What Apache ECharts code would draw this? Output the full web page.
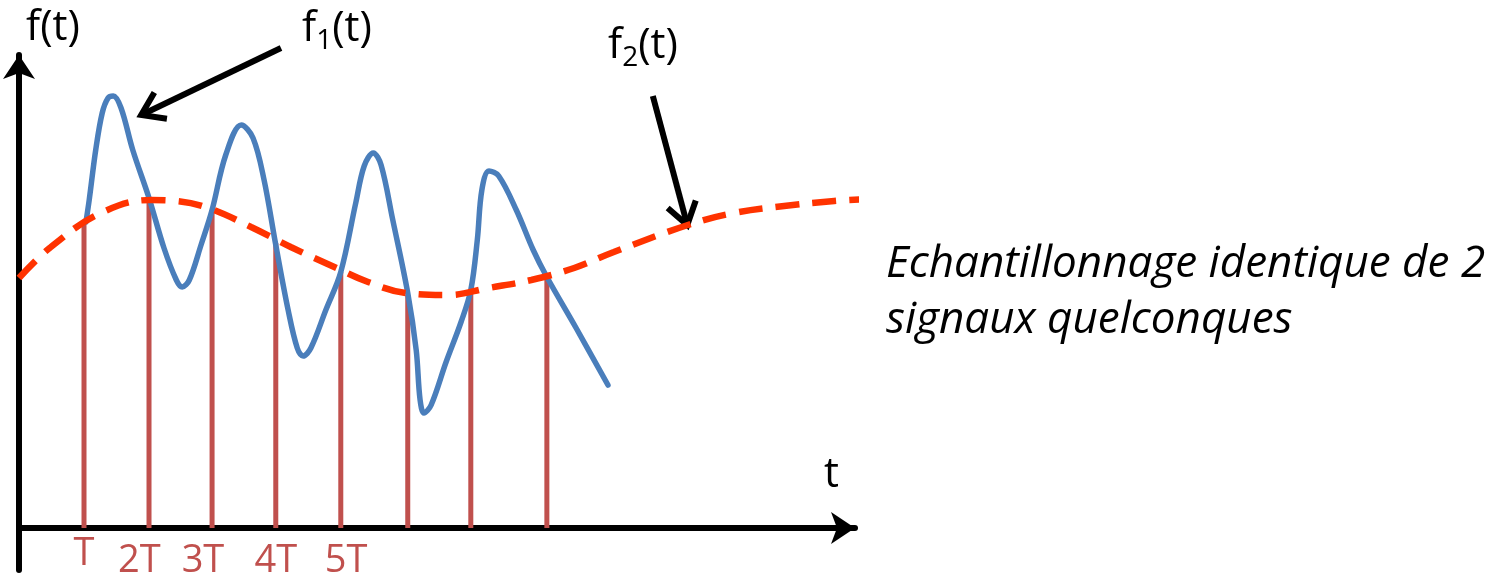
<!DOCTYPE html>
<html>
<head>
<meta charset="utf-8">
<script src="https://cdn.jsdelivr.net/npm/echarts@6/dist/echarts.min.js"></script>
<style>
  html, body { margin: 0; padding: 0; background: #fff; }
  #main { width: 1503px; height: 573px; }
</style>
</head>
<body>
<div id="main"></div>
<script>
// t en unités de T, amplitude en unités arbitraires
const f1T = [1.03, 1.08, 1.18, 1.28, 1.37, 1.45, 1.57, 1.75, 2.00, 2.23, 2.42, 2.51, 2.62, 2.80, 2.97, 3.18, 3.42, 3.60, 3.77, 3.95, 4.14, 4.28, 4.37, 4.49, 4.72, 4.95, 5.18, 5.31, 5.45, 5.57, 5.75, 5.98, 6.11, 6.17, 6.23, 6.34, 6.57, 6.80, 6.95, 7.05, 7.12, 7.23, 7.38, 7.65, 7.91, 8.12, 8.57, 9.06];
const f1V = [3.06, 3.28, 3.78, 4.15, 4.30, 4.32, 4.20, 3.78, 3.30, 2.80, 2.48, 2.41, 2.48, 2.83, 3.18, 3.73, 4.03, 3.90, 3.48, 2.83, 2.18, 1.80, 1.72, 1.80, 2.18, 2.56, 3.25, 3.62, 3.75, 3.63, 3.08, 2.35, 1.78, 1.28, 1.15, 1.23, 1.66, 2.06, 2.38, 2.88, 3.38, 3.57, 3.52, 3.18, 2.78, 2.51, 2.00, 1.43];

const f2T = [0, 0.49, 1.26, 2.03, 2.42, 2.91, 3.57, 4.18, 4.85, 5.37, 5.95, 6.60, 7.22, 7.88, 8.54, 9.15, 10.29, 11.00, 11.77, 12.54, 13.05];
const f2V = [2.50, 2.81, 3.15, 3.28, 3.27, 3.20, 3.01, 2.81, 2.61, 2.46, 2.35, 2.33, 2.40, 2.48, 2.60, 2.76, 3.03, 3.15, 3.22, 3.27, 3.29];

// échantillons
const sampleT = [1.00, 2.00, 2.97, 3.95, 4.95, 5.98, 6.95, 8.12];
const sampleV = [3.04, 3.30, 3.18, 2.85, 2.56, 2.33, 2.38, 2.53];

const tickPos = [1.0, 1.85, 2.83, 3.95, 5.03];
const tickLabels = ['T', '2T', '3T', '4T', '5T'];

const FONT = '"Open Sans"';
const chart = echarts.init(document.getElementById('main'));

const option = {
  animation: false,
  backgroundColor: '#fff',
  grid: { left: 19, top: 55, width: 836, bottom: 3, containLabel: false, outerBoundsMode: 'none' },
  xAxis: {
    type: 'value',
    min: 0,
    max: 12.86,
    axisLine: {
      onZero: true,
      symbol: ['none', 'arrow'],
      symbolSize: [24, 24],
      lineStyle: { color: '#000', width: 6 }
    },
    axisTick: { show: false },
    axisLabel: { show: false },
    splitLine: { show: false }
  },
  yAxis: {
    type: 'value',
    min: -0.42,
    max: 4.73,
    axisLine: {
      show: true,
      onZero: true,
      symbol: ['none', 'arrow'],
      symbolSize: [24, 24],
      lineStyle: { color: '#000', width: 6 }
    },
    axisTick: { show: false },
    axisLabel: { show: false },
    splitLine: { show: false }
  },
  series: [
    {
      name: 'echantillons',
      type: 'custom',
      data: sampleT.map((t, i) => [t, sampleV[i]]),
      renderItem: function (params, api) {
        const p0 = api.coord([api.value(0), 0]);
        const p1 = api.coord([api.value(0), api.value(1)]);
        return {
          type: 'line',
          shape: { x1: p0[0], y1: p0[1], x2: p1[0], y2: p1[1] },
          style: { stroke: '#C0504D', lineWidth: 5 }
        };
      },
      z: 1
    },
    {
      name: 'f1',
      type: 'line',
      data: f1T.map((t, i) => [t, f1V[i]]),
      smooth: 0.35,
      showSymbol: false,
      lineStyle: { color: '#4A7EBB', width: 5.5, cap: 'round' },
      z: 2
    },
    {
      name: 'f2',
      type: 'line',
      data: f2T.map((t, i) => [t, f2V[i]]),
      smooth: 0.4,
      showSymbol: false,
      clip: false,
      lineStyle: { color: '#FF3300', width: 6.5, type: [24, 13] },
      z: 3
    }
  ]
};

chart.setOption(option);

// flèches d'annotation (ancrées en coordonnées de données)
function arrow(tail, tip) {
  const a = chart.convertToPixel({ gridIndex: 0 }, tail);
  const b = chart.convertToPixel({ gridIndex: 0 }, tip);
  const dx = a[0] - b[0], dy = a[1] - b[1];
  const len = Math.sqrt(dx * dx + dy * dy);
  const ux = dx / len, uy = dy / len;
  const ang = 34 * Math.PI / 180, w = 26;
  const rot = (s) => [
    b[0] + w * (ux * Math.cos(s * ang) - uy * Math.sin(s * ang)),
    b[1] + w * (ux * Math.sin(s * ang) + uy * Math.cos(s * ang))
  ];
  const style = { stroke: '#000', lineWidth: 6, fill: null, lineJoin: 'miter' };
  return [
    { type: 'line', shape: { x1: a[0], y1: a[1], x2: b[0], y2: b[1] }, style: style },
    { type: 'polyline', shape: { points: [rot(1), b, rot(-1)] }, style: style }
  ];
}

// étiquettes de l'axe t (T, 2T, ...)
const tickTexts = tickLabels.map((lab, i) => {
  const p = chart.convertToPixel({ gridIndex: 0 }, [tickPos[i], 0]);
  return {
    type: 'text', x: p[0], y: p[1] + (i === 0 ? 7 : 14),
    style: { text: lab, fill: '#C0504D', font: '38px ' + FONT, align: 'center', verticalAlign: 'top' }
  };
});

const txt = (x, y, text, rich) => ({
  type: 'text', left: x, top: y,
  style: { text: text, fill: '#000', font: '42px ' + FONT, rich: rich }
});

const subRich = {
  m: { fontSize: 42, fontFamily: FONT, lineHeight: 52, color: '#000' },
  s: { fontSize: 28, fontFamily: FONT, lineHeight: 22, verticalAlign: 'bottom', color: '#000' }
};

chart.setOption({
  graphic: [
    ...arrow([4.03, 4.80], [1.88, 4.13]),
    ...arrow([9.75, 4.32], [10.28, 3.03]),
    ...tickTexts,
    txt(26, 7, 'f(t)'),
    txt(824, 454, 't'),
    txt(302, 8, '{m|f}{s|1}{m|(t)}', subRich),
    txt(608, 25, '{m|f}{s|2}{m|(t)}', subRich),
    {
      type: 'text', left: 886, top: 236,
      style: {
        text: 'Echantillonnage identique de 2\nsignaux quelconques',
        font: 'italic 44px ' + FONT, fill: '#000', lineHeight: 56
      }
    }
  ]
});
</script>
</body>
</html>
